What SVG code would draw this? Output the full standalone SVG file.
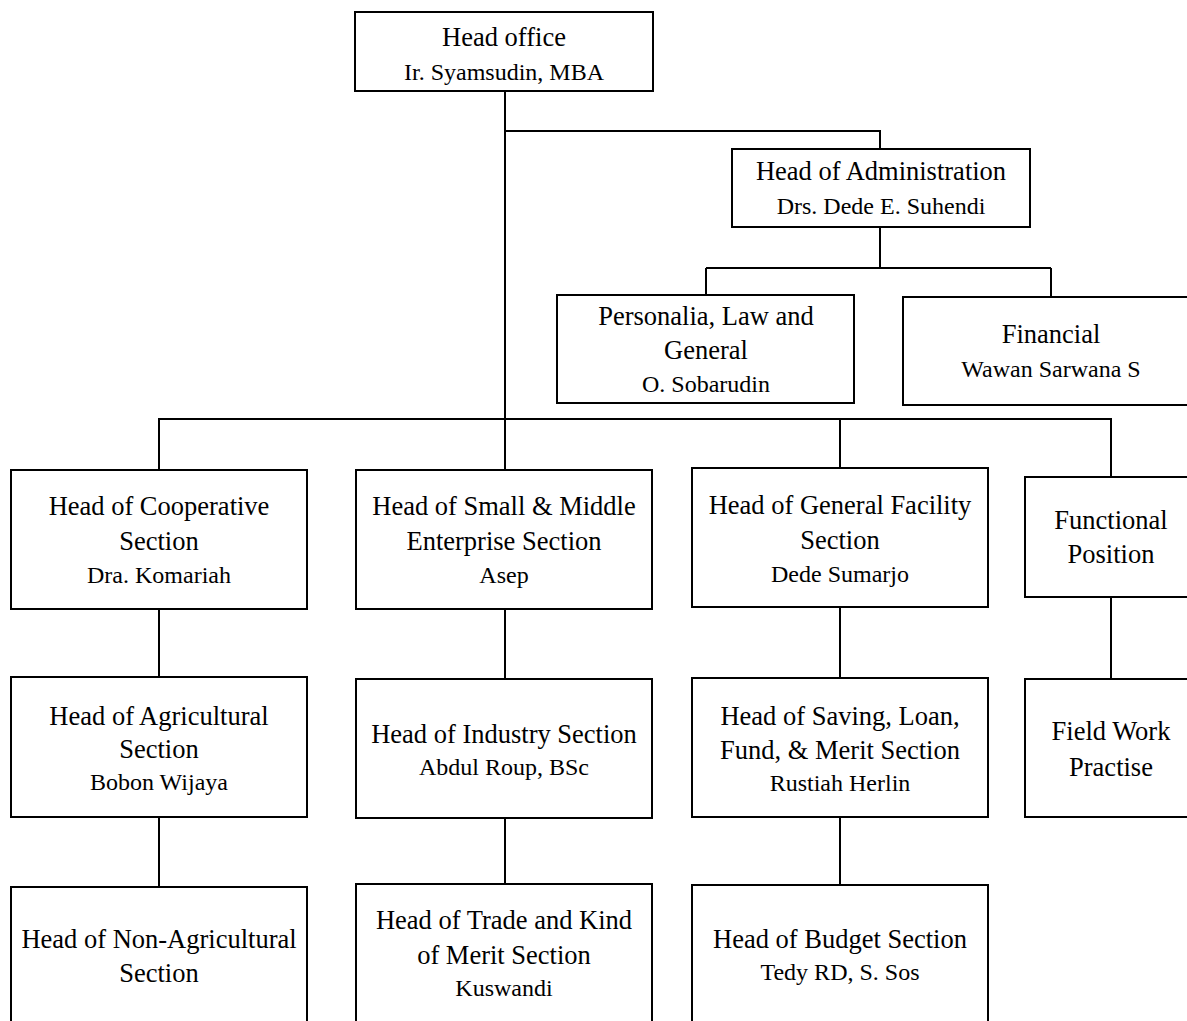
<svg xmlns="http://www.w3.org/2000/svg" width="1187" height="1021" viewBox="0 0 1187 1021">
<style>
rect{fill:#fff;stroke:#000;stroke-width:2}
.c path{fill:none;stroke:#000;stroke-width:2}
text{font-family:"Liberation Serif","Times New Roman",serif;fill:#000;text-anchor:middle}
.t{font-size:26.5px}
.n{font-size:24px}
</style>
<rect x="0" y="0" width="1187" height="1021" style="stroke:none"/>
<g class="c">
<path d="M505 91V419"/>
<path d="M505 131H880V149"/>
<path d="M880 227V268M706 268H1051M706 268V295M1051 268V297"/>
<path d="M159 470V419H1111V477M505 419V470M840 419V468"/>
<path d="M159 609V677M505 609V679M840 607V678M1111 597V679"/>
<path d="M159 817V887M505 818V884M840 817V885"/>
</g>
<g id="head"><rect x="355" y="12" width="298" height="79"/><text class="t" x="504" y="46">Head office</text><text class="n" x="504" y="80">Ir. Syamsudin, MBA</text></g>
<g id="admin"><rect x="732" y="149" width="298" height="78"/><text class="t" x="881" y="180">Head of Administration</text><text class="n" x="881" y="214">Drs. Dede E. Suhendi</text></g>
<g id="personalia"><rect x="557" y="295" width="297" height="108"/><text class="t" x="706" y="325">Personalia, Law and</text><text class="t" x="706" y="359">General</text><text class="n" x="706" y="392">O. Sobarudin</text></g>
<g id="financial"><rect x="903" y="297" width="300" height="108"/><text class="t" x="1051" y="343">Financial</text><text class="n" x="1051" y="377">Wawan Sarwana S</text></g>
<g id="coop"><rect x="11" y="470" width="296" height="139"/><text class="t" x="159" y="515">Head of Cooperative</text><text class="t" x="159" y="550">Section</text><text class="n" x="159" y="583">Dra. Komariah</text></g>
<g id="sme"><rect x="356" y="470" width="296" height="139"/><text class="t" x="504" y="515">Head of Small &amp; Middle</text><text class="t" x="504" y="550">Enterprise Section</text><text class="n" x="504" y="583">Asep</text></g>
<g id="genfac"><rect x="692" y="468" width="296" height="139"/><text class="t" x="840" y="514">Head of General Facility</text><text class="t" x="840" y="549">Section</text><text class="n" x="840" y="582">Dede Sumarjo</text></g>
<g id="functional"><rect x="1025" y="477" width="170" height="120"/><text class="t" x="1111" y="529">Functional</text><text class="t" x="1111" y="563">Position</text></g>
<g id="agri"><rect x="11" y="677" width="296" height="140"/><text class="t" x="159" y="725">Head of Agricultural</text><text class="t" x="159" y="758">Section</text><text class="n" x="159" y="790">Bobon Wijaya</text></g>
<g id="industry"><rect x="356" y="679" width="296" height="139"/><text class="t" x="504" y="743">Head of Industry Section</text><text class="n" x="504" y="775">Abdul Roup, BSc</text></g>
<g id="saving"><rect x="692" y="678" width="296" height="139"/><text class="t" x="840" y="725">Head of Saving, Loan,</text><text class="t" x="840" y="759">Fund, &amp; Merit Section</text><text class="n" x="840" y="791">Rustiah Herlin</text></g>
<g id="fieldwork"><rect x="1025" y="679" width="170" height="138"/><text class="t" x="1111" y="740">Field Work</text><text class="t" x="1111" y="776">Practise</text></g>
<g id="nonagri"><rect x="11" y="887" width="296" height="150"/><text class="t" x="159" y="948">Head of Non-Agricultural</text><text class="t" x="159" y="982">Section</text></g>
<g id="trade"><rect x="356" y="884" width="296" height="150"/><text class="t" x="504" y="929">Head of Trade and Kind</text><text class="t" x="504" y="964">of Merit Section</text><text class="n" x="504" y="996">Kuswandi</text></g>
<g id="budget"><rect x="692" y="885" width="296" height="150"/><text class="t" x="840" y="948">Head of Budget Section</text><text class="n" x="840" y="980">Tedy RD, S. Sos</text></g>
</svg>
